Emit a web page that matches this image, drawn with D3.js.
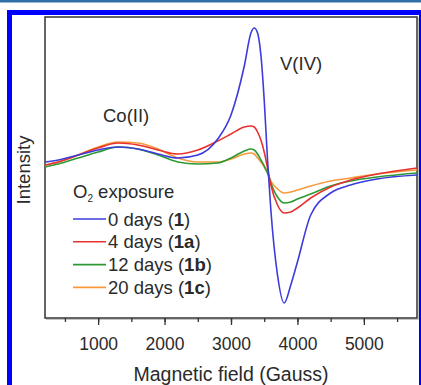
<!DOCTYPE html>
<html>
<head>
<meta charset="utf-8">
<script src="https://cdn.jsdelivr.net/npm/d3@7"></script>
<style>
  html, body { margin: 0; padding: 0; background: #fff; }
  svg { display: block; font-family: "Liberation Sans", Arial, sans-serif; }
</style>
</head>
<body>
<svg id="chart"></svg>
<script>
// Magnetic field (Gauss) sample points
const fieldG = [200, 400, 700, 1000, 1300, 1600, 1900, 2200, 2500, 2800, 3000, 3200, 3300, 3350,
                3400, 3450, 3500, 3550, 3600, 3700, 3800, 3900, 4000, 4200, 4500, 4800, 5200, 5800];

// EPR intensity (arbitrary units) per O2 exposure time
const days0  = [8, 10, 15, 20, 23, 21, 16, 12, 15, 31, 55, 104, 137, 142,
                137, 115, 70, 10, -40, -105, -133, -115, -92, -45, -23, -15, -9, -5];
const days4  = [5, 8, 15, 22, 27, 25, 20, 16, 20, 29, 36, 43, 44, 43,
                38, 30, 18, 2, -15, -35, -43, -42, -38, -28, -17, -10, -4, 2];
const days12 = [3, 6, 12, 18, 23, 21, 15, 8, 6, 7, 12, 19, 21, 20,
                16, 10, 4, -3, -13, -27, -33, -32, -29, -24, -16, -11, -7, -3];
const days20 = [5, 8, 15, 23, 28, 27, 21, 12, 8, 8, 11, 16, 17, 16,
                12, 8, 3, -3, -11, -19, -23, -22, -20, -16, -11, -8, -4, 0];

const seriesNames = ["0 days", "4 days", "12 days", "20 days"];
const seriesTags  = ["1", "1a", "1b", "1c"];
const seriesColors = ["#3c3cdc", "#e8322e", "#2c9a34", "#f7993c"];
const seriesValues = [days0, days4, days12, days20];

const xTicks = [1000, 2000, 3000, 4000, 5000];

const W = 421, H = 385;
const box = {left: 45, top: 17, right: 417, bottom: 318};

const svg = d3.select("#chart").attr("width", W).attr("height", H);

// page decoration: top stripe and blue frame
svg.append("rect").attr("x", 0).attr("y", 0).attr("width", W).attr("height", 2.5).attr("fill", "#2f6ea6");
svg.append("rect")
  .attr("x", 9.5).attr("y", 12.5).attr("width", 412).attr("height", 400)
  .attr("fill", "none").attr("stroke", "#0000ff").attr("stroke-width", 5);

const x = d3.scaleLinear().domain([200, 5800]).range([box.left, box.right]);
const y = d3.scaleLinear().domain([-148, 153]).range([box.bottom, box.top]);

// plot box with a faint shadow
svg.append("rect")
  .attr("x", box.left + 1.5).attr("y", box.top + 1.5)
  .attr("width", box.right - box.left).attr("height", box.bottom - box.top)
  .attr("fill", "none").attr("stroke", "#c4c4c4").attr("stroke-width", 1);
svg.append("rect")
  .attr("x", box.left).attr("y", box.top)
  .attr("width", box.right - box.left).attr("height", box.bottom - box.top)
  .attr("fill", "#fff").attr("stroke", "#333").attr("stroke-width", 1.5);

// curves
const line = d3.line()
  .x((d, i) => x(fieldG[i]))
  .y(d => y(d))
  .curve(d3.curveMonotoneX);

// draw lightest first so blue ends on top like the original
[3, 2, 1, 0].forEach(k => {
  svg.append("path")
    .datum(seriesValues[k])
    .attr("fill", "none")
    .attr("stroke", seriesColors[k])
    .attr("stroke-width", 1.6)
    .attr("d", line);
});

// x axis: major labelled ticks and minor ticks
const axisG = svg.append("g").attr("transform", `translate(0,${box.bottom})`);
axisG.call(d3.axisBottom(x).tickValues(d3.range(500, 5801, 500)).tickSize(4).tickFormat(""));
axisG.call(g => g.select(".domain").remove());
axisG.selectAll(".tick line").attr("stroke", "#333").attr("stroke-width", 1.3);

const majorG = svg.append("g").attr("transform", `translate(0,${box.bottom})`);
majorG.call(d3.axisBottom(x).tickValues(xTicks).tickSize(7).tickPadding(13).tickFormat(d3.format("d")));
majorG.select(".domain").remove();
majorG.selectAll(".tick line").attr("stroke", "#333").attr("stroke-width", 1.3);
majorG.selectAll(".tick text")
  .attr("font-size", 17.5).attr("fill", "#2a2a2a")
  .attr("font-family", "'Liberation Sans', Arial, sans-serif");

// axis titles
svg.append("text")
  .attr("x", 231).attr("y", 381)
  .attr("text-anchor", "middle").attr("font-size", 19.5).attr("fill", "#2a2a2a")
  .text("Magnetic field (Gauss)");

svg.append("text")
  .attr("transform", "translate(30,170) rotate(-90)")
  .attr("text-anchor", "middle").attr("font-size", 18.5).attr("fill", "#2a2a2a")
  .text("Intensity");

// peak annotations
svg.append("text").attr("x", 103).attr("y", 122).attr("font-size", 18.5).attr("fill", "#2a2a2a").text("Co(II)");
svg.append("text").attr("x", 280).attr("y", 70).attr("font-size", 18.5).attr("fill", "#2a2a2a").text("V(IV)");

// legend
const legend = svg.append("g");
const head = legend.append("text").attr("x", 73).attr("y", 198).attr("font-size", 18.5).attr("fill", "#2a2a2a");
head.append("tspan").text("O");
head.append("tspan").attr("font-size", 10).attr("dy", 4).text("2");
head.append("tspan").attr("dy", -4).text(" exposure");

seriesNames.forEach((name, i) => {
  const ly = 219 + i * 22.8;
  legend.append("line")
    .attr("x1", 73).attr("x2", 106).attr("y1", ly).attr("y2", ly)
    .attr("stroke", seriesColors[i]).attr("stroke-width", 1.6);
  const t = legend.append("text").attr("x", 108).attr("y", ly + 6.5)
    .attr("font-size", 18.5).attr("fill", "#2a2a2a");
  t.append("tspan").text(name + " (");
  t.append("tspan").attr("font-weight", "bold").text(seriesTags[i]);
  t.append("tspan").text(")");
});
</script>
</body>
</html>
